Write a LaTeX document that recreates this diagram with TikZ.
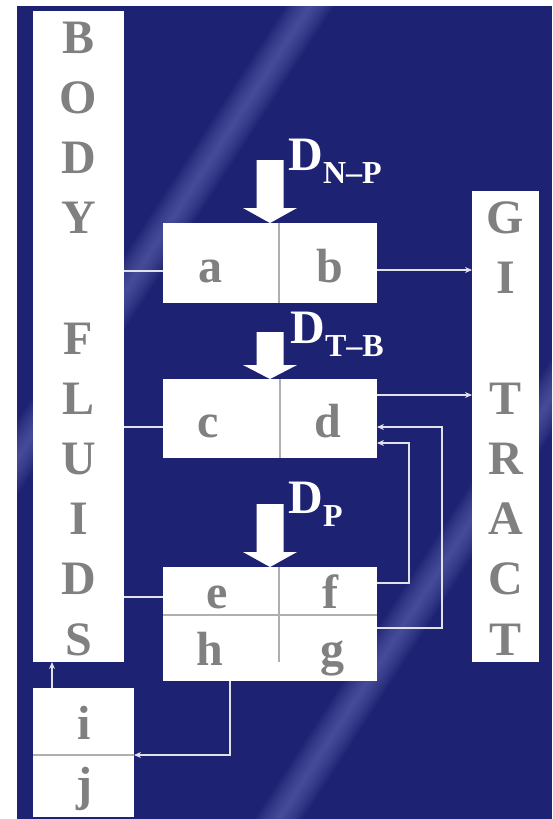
\documentclass[tikz,border=0pt]{standalone}
\usepackage{fontspec}
\setmainfont{Liberation Serif}
\usetikzlibrary{arrows.meta}

\definecolor{bg}{RGB}{30,34,114}
\definecolor{streak}{RGB}{120,130,205}
\definecolor{letter}{RGB}{128,128,128}
\definecolor{rule}{RGB}{175,175,175}
\definecolor{wire}{RGB}{225,225,232}

\tikzset{
  panel/.style={fill=white, draw=none, inner sep=0pt, outer sep=0pt, anchor=north west},
  big/.style={font=\fontsize{24}{24}\selectfont\bfseries, text=letter, inner sep=0pt, anchor=base},
  dlabel/.style={font=\fontsize{24}{24}\selectfont\bfseries, text=white, inner sep=0pt, anchor=base west},
  link/.style={draw=wire, line width=0.6pt},
  flow/.style={link, -{Stealth[length=3.5pt,width=3pt]}},
  divider/.style={draw=rule, line width=0.6pt},
  dose/.style={fill=white, draw=none},
}
\newcommand\subtxt[1]{\raisebox{-6.5pt}{\fontsize{16}{16}\selectfont #1}}

\begin{document}
\begin{tikzpicture}[x=0.5pt,y=-0.5pt]
  \useasboundingbox (0,0) rectangle (552,819);
  % backdrop
  \fill[white] (0,0) rectangle (552,819);
  \fill[bg] (17,6) rectangle (552,819);
  \begin{scope}
    \clip (17,6) rectangle (552,819);
    % soft diagonal light streaks
    \foreach \w in {40,36,...,4} {
      \draw[streak, line width=\w*0.5pt, opacity=0.06] (330,-25) -- (0,485);
      \draw[streak, line width=\w*0.5pt, opacity=0.06] (575,360) -- (262,845);
    }
  \end{scope}

  % panels
  \node[panel, minimum width=45.5pt, minimum height=325.5pt] (body) at (33,11) {};
  \node[panel, minimum width=33.5pt, minimum height=235.5pt] (gi) at (472,191) {};
  \node[panel, minimum width=107pt, minimum height=40pt] (ab) at (163,223) {};
  \node[panel, minimum width=107pt, minimum height=39.5pt] (cd) at (163,379) {};
  \node[panel, minimum width=107pt, minimum height=57pt] (ef) at (163,567) {};
  \node[panel, minimum width=50.5pt, minimum height=64.5pt] (ij) at (33,688) {};

  % dividers inside the panels
  \draw[divider] (279,223) -- (279,303);
  \draw[divider] (280,379) -- (280,458);
  \draw[divider] (279,567) -- (279,662);
  \draw[divider] (163,615) -- (377,615);
  \draw[divider] (33,755) -- (134,755);

  % column lettering
  \foreach \c [count=\i from 0] in {B,O,D,Y,,F,L,U,I,D,S}
    \node[big] (bf\i) at (78.5,53+60.2*\i) {\c};
  \foreach \c [count=\i from 3] in {G,I,,T,R,A,C,T}
    \node[big] (gt\i) at (505.5,53+60.2*\i) {\c};

  % compartment letters
  \node[big] (la) at (210,282) {a};
  \node[big] (lb) at (330,282) {b};
  \node[big] (lc) at (208,437) {c};
  \node[big] (ld) at (328,437) {d};
  \node[big] (le) at (217,608) {e};
  \node[big] (lf) at (330,608) {f};
  \node[big] (lh) at (210,665) {h};
  \node[big] (lg) at (332,665) {g};
  \node[big] (li) at (84,739) {i};
  \node[big] (lj) at (84,800) {j};

  % dose arrows and their labels
  \fill[dose] (270,223) -- ++(-27,-15) -- ++(13.5,0) -- ++(0,-48) -- ++(27,0) -- ++(0,48) -- ++(13.5,0) -- cycle;
  \fill[dose] (270,379) -- ++(-27,-14) -- ++(13.5,0) -- ++(0,-33) -- ++(27,0) -- ++(0,33) -- ++(13.5,0) -- cycle;
  \fill[dose] (270,567) -- ++(-27,-15) -- ++(13.5,0) -- ++(0,-48) -- ++(27,0) -- ++(0,48) -- ++(13.5,0) -- cycle;
  \node[dlabel] (dnp) at (288,170) {D\subtxt{N\textendash P}};
  \node[dlabel] (dtb) at (290,343) {D\subtxt{T\textendash B}};
  \node[dlabel] (dp)  at (288,513) {D\subtxt{P}};

  % connector ends
  \coordinate (aL) at (163,271);
  \coordinate (bR) at (377,270);
  \coordinate (cL) at (163,427);
  \coordinate (dR) at (377,395);
  \coordinate (dIn1) at (377,427);
  \coordinate (dIn2) at (377,443);
  \coordinate (fR) at (377,583);
  \coordinate (gR) at (377,628);
  \coordinate (eL) at (163,597);
  \coordinate (hB) at (230,681);
  \coordinate (jR) at (134,755);
  \coordinate (iT) at (52,688);

  % connectors
  \draw[link] (body.east |- aL) -- (aL);
  \draw[flow] (bR) -- (gi.west |- bR);
  \draw[link] (body.east |- cL) -- (cL);
  \draw[flow] (dR) -- (gi.west |- dR);
  \draw[flow] (gR) -- (442,628) -- (442,427) -- (dIn1);
  \draw[flow] (fR) -- (409,583) -- (409,443) -- (dIn2);
  \draw[link] (body.east |- eL) -- (eL);
  \draw[flow] (hB) -- (hB |- jR) -- (jR);
  \draw[flow] (iT) -- (iT |- body.south);
\end{tikzpicture}
\end{document}
